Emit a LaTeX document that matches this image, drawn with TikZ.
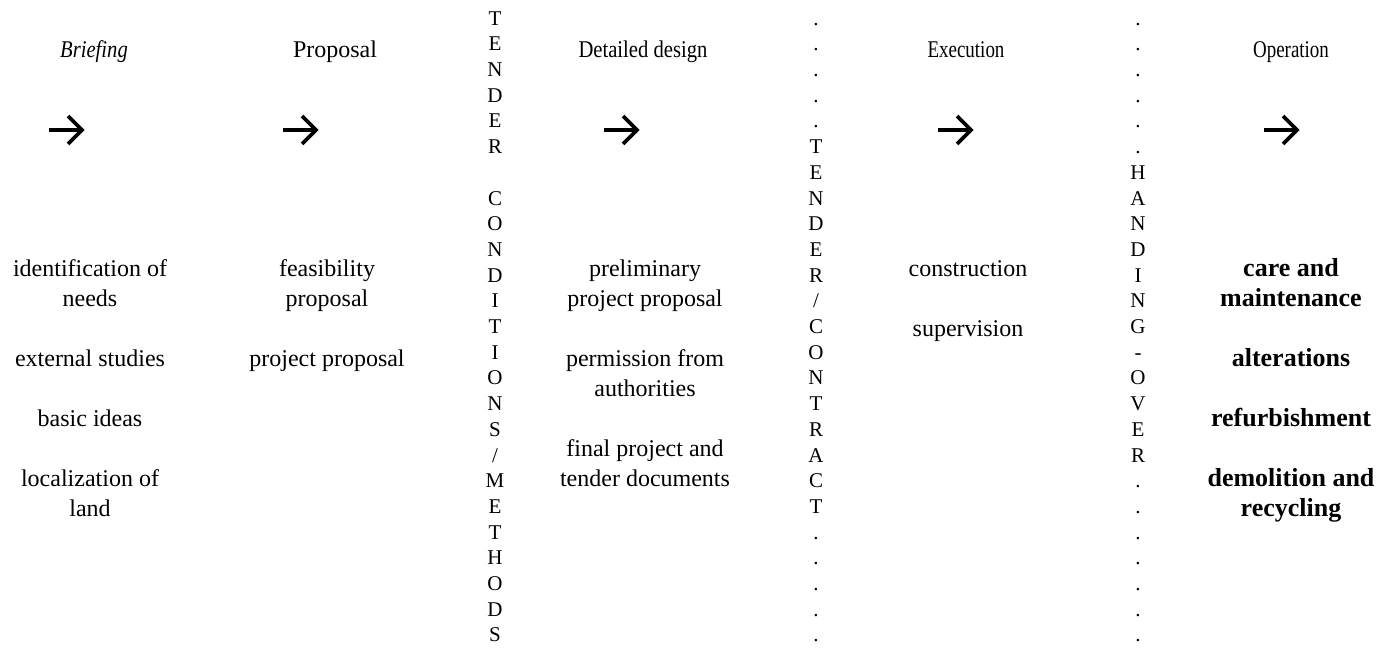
\documentclass[tikz,border=0pt]{standalone}
\usepackage{fontspec}
\setmainfont{Liberation Serif}
\newfontfamily\condA[FakeStretch=0.86]{Liberation Serif}
\newfontfamily\condB[FakeStretch=0.79]{Liberation Serif}
\begin{document}
\begin{tikzpicture}[x=1pt,y=-1pt,
  head/.style={anchor=base, inner sep=0, font=\fontsize{24}{30}\selectfont},
  item/.style={anchor=north, inner sep=0, align=center, font=\fontsize{24}{30}\selectfont},
  bitem/.style={anchor=north, inner sep=0, align=center, font=\fontsize{26}{30}\selectfont\bfseries},
  vcol/.style={anchor=north, inner sep=0, align=center, font=\fontsize{21}{25.7}\selectfont},
  glyph/.style={line width=3.6pt, line join=miter}
]
\useasboundingbox (0,0) rectangle (1389,650);

% headings
\node[head] (h1) at (94,58) {\condA\itshape Briefing};
\node[head] (h2) at (335,58) {Proposal};
\node[head] (h3) at (643,58) {\condA Detailed design};
\node[head] (h4) at (966,58) {\condB Execution};
\node[head] (h5) at (1291,58) {\condB Operation};

% arrows
\foreach \ax/\nm in {66/a1,300/a2,621/a3,955/a4,1281/a5}{
  \coordinate (\nm) at (\ax,130);
  \draw[glyph, shift={(\nm)}] (-17,0) -- (16,0) (2,-14) -- (16,0) -- (2,14);
}

% column 1
\node[item] (c1a) at (90,255) {\strut identification of\\\strut needs};
\node[item] (c1b) at (90,345) {\strut external studies};
\node[item] (c1c) at (90,405) {\strut basic ideas};
\node[item] (c1d) at (90,465) {\strut localization of\\\strut land};

% column 2
\node[item] (c2a) at (327,255) {\strut feasibility\\\strut proposal};
\node[item] (c2b) at (327,345) {\strut project proposal};

% column 3
\node[item] (c3a) at (645,255) {\strut preliminary\\\strut project proposal};
\node[item] (c3b) at (645,345) {\strut permission from\\\strut authorities};
\node[item] (c3c) at (645,435) {\strut final project and\\\strut tender documents};

% column 4
\node[item] (c4a) at (968,255) {\strut construction};
\node[item] (c4b) at (968,315) {\strut supervision};

% column 5
\node[bitem] (c5a) at (1291,255) {\strut care and\\\strut maintenance};
\node[bitem] (c5b) at (1291,345) {\strut alterations};
\node[bitem] (c5c) at (1291,405) {\strut refurbishment};
\node[bitem] (c5d) at (1291,465) {\strut demolition and\\\strut recycling};

% vertical columns
\node[vcol] (v1) at (495,7) {\strut T\\\strut E\\\strut N\\\strut D\\\strut E\\\strut R\\\strut\\\strut C\\\strut O\\\strut N\\\strut D\\\strut I\\\strut T\\\strut I\\\strut O\\\strut N\\\strut S\\\strut /\\\strut M\\\strut E\\\strut T\\\strut H\\\strut O\\\strut D\\\strut S};
\node[vcol] (v2) at (816,7) {\strut .\\\strut .\\\strut .\\\strut .\\\strut .\\\strut T\\\strut E\\\strut N\\\strut D\\\strut E\\\strut R\\\strut /\\\strut C\\\strut O\\\strut N\\\strut T\\\strut R\\\strut A\\\strut C\\\strut T\\\strut .\\\strut .\\\strut .\\\strut .\\\strut .};
\node[vcol] (v3) at (1138,7) {\strut .\\\strut .\\\strut .\\\strut .\\\strut .\\\strut .\\\strut H\\\strut A\\\strut N\\\strut D\\\strut I\\\strut N\\\strut G\\\strut -\\\strut O\\\strut V\\\strut E\\\strut R\\\strut .\\\strut .\\\strut .\\\strut .\\\strut .\\\strut .\\\strut .};
\end{tikzpicture}
\end{document}
